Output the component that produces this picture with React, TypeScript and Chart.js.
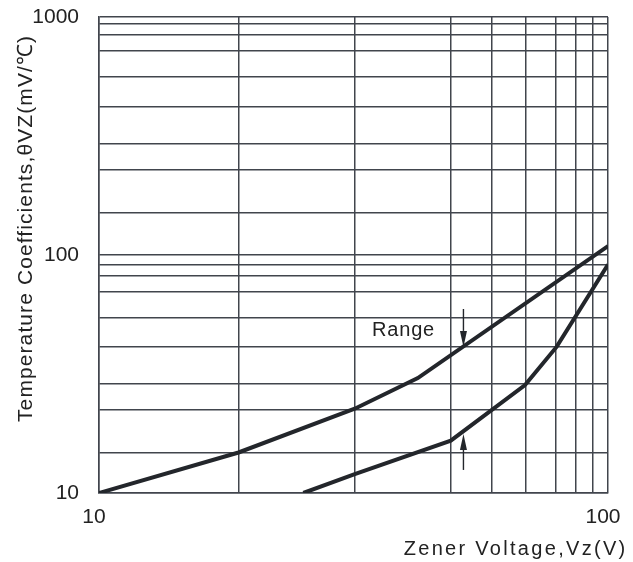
import React, { useEffect, useRef } from "react";
import { Chart, registerables } from "chart.js";

Chart.register(...registerables);

// Grid values as drawn in the datasheet figure (its grid is not an exact log grid)
const xGridValues = [10, 18.8, 31.8, 49.2, 59.2, 69, 79, 86.4, 93.3, 100];
const yGridValues = [10, 14.8, 22.3, 28.8, 41, 54.7, 70, 82, 91, 100, 151, 228, 294, 420, 561, 718, 843, 935, 1000];
const xTickLabels = [10, 100];
const yTickLabels = [10, 100, 1000];

// Upper bound of the temperature-coefficient range
const upperVz = [10, 18.8, 31.8, 42.3, 100];
const upperTc = [10, 14.8, 22.6, 30.4, 109];
// Lower bound of the temperature-coefficient range
const lowerVz = [25.2, 31.8, 49.1, 68.7, 79.3, 100];
const lowerTc = [10, 12.0, 16.6, 28.4, 41.2, 91.2];

// "Range" annotation
const rangeLabel = "Range";
const rangeLabelVz = 34.4;
const rangeLabelTc = 48.4;
const arrowVz = 52;
const upperArrowTc = [59.3, 41.1]; // tail, tip
const lowerArrowTc = [12.5, 17.7]; // tail, tip

const xTitle = "Zener Voltage,Vz(V)";
const yTitle = "Temperature Coefficients,θVZ(mV/℃)";

const FONT = '"Liberation Sans", Arial, Helvetica, sans-serif';
const INK = "#23262b";
const GRID = "#41454d";

const annotate = {
  id: "annotate",
  afterDatasetsDraw(chart: any) {
    const { ctx, chartArea } = chart;
    const x = chart.scales.x;
    const y = chart.scales.y;
    ctx.save();

    const drawArrow = (vz: number, fromTc: number, toTc: number) => {
      const px = x.getPixelForValue(vz);
      const y0 = y.getPixelForValue(fromTc);
      const y1 = y.getPixelForValue(toTc);
      const dir = Math.sign(y1 - y0);
      const headLen = 16;
      const half = 3.5;
      ctx.strokeStyle = INK;
      ctx.lineWidth = 1.4;
      ctx.beginPath();
      ctx.moveTo(px, y0);
      ctx.lineTo(px, y1 - dir * headLen);
      ctx.stroke();
      ctx.fillStyle = INK;
      ctx.beginPath();
      ctx.moveTo(px, y1);
      ctx.lineTo(px - half, y1 - dir * headLen);
      ctx.lineTo(px + half, y1 - dir * headLen);
      ctx.closePath();
      ctx.fill();
    };
    drawArrow(arrowVz, upperArrowTc[0], upperArrowTc[1]);
    drawArrow(arrowVz, lowerArrowTc[0], lowerArrowTc[1]);

    ctx.fillStyle = "#222";
    ctx.font = `20px ${FONT}`;
    ctx.textAlign = "left";
    ctx.textBaseline = "middle";
    (ctx as any).letterSpacing = "0.8px";
    ctx.fillText(rangeLabel, x.getPixelForValue(rangeLabelVz), y.getPixelForValue(rangeLabelTc));

    // x-axis title
    (ctx as any).letterSpacing = "2.3px";
    ctx.textAlign = "right";
    ctx.textBaseline = "alphabetic";
    ctx.font = `20px ${FONT}`;
    ctx.fillText(xTitle, chartArea.right + 19.5, chartArea.bottom + 62);

    // y-axis title
    (ctx as any).letterSpacing = "1.1px";
    ctx.font = `21px ${FONT}`;
    ctx.translate(chartArea.left - 67, chartArea.bottom - 71);
    ctx.rotate(-Math.PI / 2);
    ctx.textAlign = "left";
    ctx.fillText(yTitle, 0, 0);
    ctx.restore();
  },
};

const zeroPadding = (scale: any) => {
  scale.paddingTop = 0;
  scale.paddingBottom = 0;
  scale.paddingLeft = 0;
  scale.paddingRight = 0;
};

export default function App() {
  const canvasRef = useRef<HTMLCanvasElement | null>(null);

  useEffect(() => {
    document.body.style.margin = "0";
    const canvas = canvasRef.current;
    if (!canvas) return;

    const chart = new Chart(canvas, {
      type: "line",
      data: {
        datasets: [
          {
            label: "Upper",
            data: upperVz.map((v, i) => ({ x: v, y: upperTc[i] })),
            borderColor: INK,
            borderWidth: 4,
            pointRadius: 0,
            tension: 0,
            fill: false,
          },
          {
            label: "Lower",
            data: lowerVz.map((v, i) => ({ x: v, y: lowerTc[i] })),
            borderColor: INK,
            borderWidth: 4,
            pointRadius: 0,
            tension: 0,
            fill: false,
          },
        ],
      },
      options: {
        animation: false,
        responsive: false,
        events: [],
        layout: { padding: { top: 17, right: 25, bottom: 0, left: 0 } },
        plugins: {
          legend: { display: false },
          tooltip: { enabled: false },
        },
        scales: {
          x: {
            type: "logarithmic",
            min: 10,
            max: 100,
            afterBuildTicks: (scale: any) => {
              scale.ticks = xGridValues.map((v) => ({ value: v }));
            },
            afterFit: (scale: any) => {
              scale.height = 69;
              zeroPadding(scale);
            },
            ticks: {
              autoSkip: false,
              maxRotation: 0,
              padding: 12,
              labelOffset: -5,
              color: "#222",
              font: { family: FONT, size: 21 },
              callback: (value: any) => (xTickLabels.includes(Number(value)) ? String(value) : ""),
            },
            grid: { color: GRID, lineWidth: 1.5, drawTicks: false },
            border: { display: true, color: GRID, width: 1.5 },
          },
          y: {
            type: "logarithmic",
            min: 10,
            max: 1000,
            afterBuildTicks: (scale: any) => {
              scale.ticks = yGridValues.map((v) => ({ value: v }));
            },
            afterFit: (scale: any) => {
              scale.width = 99;
              zeroPadding(scale);
            },
            ticks: {
              autoSkip: false,
              padding: 20,
              color: "#222",
              font: { family: FONT, size: 21 },
              callback: (value: any) => (yTickLabels.includes(Number(value)) ? String(value) : ""),
            },
            grid: { color: GRID, lineWidth: 1.5, drawTicks: false },
            border: { display: true, color: GRID, width: 1.5 },
          },
        },
      },
      plugins: [annotate],
    } as any);

    return () => chart.destroy();
  }, []);

  return (
    <div style={{ width: 633, height: 562 }}>
      <canvas ref={canvasRef} width={633} height={562} style={{ display: "block" }} />
    </div>
  );
}
